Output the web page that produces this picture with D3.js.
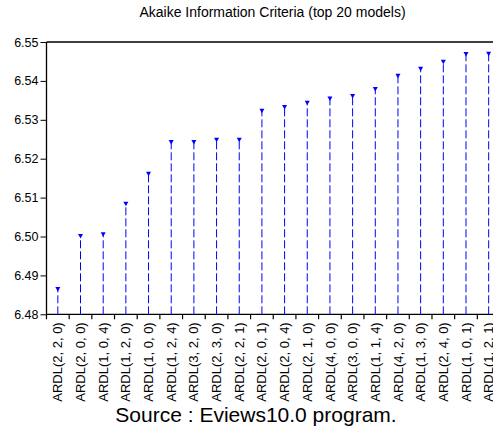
<!DOCTYPE html>
<html lang="en">
<head>
<meta charset="utf-8">
<title>AIC top 20 models</title>
<script src="https://d3js.org/d3.v7.min.js"></script>
<style>
  body{margin:0;background:#fff;font-family:"Liberation Sans",Arial,sans-serif;}
</style>
</head>
<body>
<div id="chart"></div>
<script>
// models ranked by AIC (lowest first)
var models = ["ARDL(2, 2, 0)","ARDL(2, 0, 0)","ARDL(1, 0, 4)","ARDL(1, 2, 0)","ARDL(1, 0, 0)",
              "ARDL(1, 2, 4)","ARDL(3, 2, 0)","ARDL(2, 3, 0)","ARDL(2, 2, 1)","ARDL(2, 0, 1)",
              "ARDL(2, 0, 4)","ARDL(2, 1, 0)","ARDL(4, 0, 0)","ARDL(3, 0, 0)","ARDL(1, 1, 4)",
              "ARDL(4, 2, 0)","ARDL(1, 3, 0)","ARDL(2, 4, 0)","ARDL(1, 0, 1)","ARDL(1, 2, 1)"]
var aic = [6.4865, 6.5001, 6.5006, 6.5084, 6.5161,
           6.5243, 6.5243, 6.5249, 6.5249, 6.5323,
           6.5333, 6.5344, 6.5355, 6.5361, 6.5379,
           6.5413, 6.5431, 6.5449, 6.5469, 6.5470]
var yTicks = [6.48, 6.49, 6.50, 6.51, 6.52, 6.53, 6.54, 6.55]

var w = 493, h = 429
var pLeft = 46.5, pTop = 42, pBottom = 314.3, pRight = 500

var svg = d3.select("#chart").append("svg")
    .attr("width", w).attr("height", h)

var x = d3.scaleBand().domain(models).range([pLeft, pRight])
var y = d3.scaleLinear().domain([6.48, 6.55]).range([pBottom, pTop])

// title
svg.append("text")
   .attr("x", 272.5).attr("y", 17)
   .attr("text-anchor", "middle")
   .style("font-size", "14px")
   .text("Akaike Information Criteria (top 20 models)")

// top frame line
svg.append("line")
   .attr("x1", pLeft).attr("x2", w).attr("y1", pTop).attr("y2", pTop)
   .attr("stroke", "#000").attr("stroke-width", 1.3)

// y axis
var yAxis = d3.axisLeft(y).tickValues(yTicks).tickFormat(d3.format(".2f"))
    .tickSize(6).tickPadding(2)
var gy = svg.append("g").attr("transform", "translate(" + pLeft + ",0)").call(yAxis)
gy.select(".domain").remove()
gy.append("line").attr("x1", 0).attr("x2", 0).attr("y1", pTop).attr("y2", pBottom)
  .attr("stroke", "#000").attr("stroke-width", 1.3)
gy.selectAll("text").style("font-size", "12.5px").attr("fill", "#000")
  .style("font-family", "'Liberation Sans',Arial,sans-serif")

// x axis line and boundary ticks
svg.append("line").attr("x1", pLeft).attr("x2", w).attr("y1", pBottom).attr("y2", pBottom)
   .attr("stroke", "#000").attr("stroke-width", 1.3)
svg.selectAll(".xtick")
   .data(models)
   .enter().append("line")
   .attr("class", "xtick")
   .attr("x1", function(d){ return x(d) }).attr("x2", function(d){ return x(d) })
   .attr("y1", pBottom).attr("y2", pBottom + 5)
   .attr("stroke", "#000").attr("stroke-width", 1.2)

// x labels, rotated
svg.selectAll(".xlabel")
   .data(models)
   .enter().append("text")
   .attr("class", "xlabel")
   .attr("transform", function(d){
       return "translate(" + (x(d) + x.bandwidth()/2) + "," + (pBottom + 8) + ") rotate(-90)"
   })
   .attr("text-anchor", "end")
   .attr("dy", "0.35em")
   .style("font-size", "13px")
   .text(function(d){ return d })

// stems
svg.selectAll(".stem")
   .data(aic)
   .enter().append("line")
   .attr("class", "stem")
   .attr("x1", function(d,i){ return x(models[i]) + x.bandwidth()/2 })
   .attr("x2", function(d,i){ return x(models[i]) + x.bandwidth()/2 })
   .attr("y1", pBottom)
   .attr("y2", function(d){ return y(d) })
   .attr("stroke", "#0000ff").attr("stroke-width", 1)
   .attr("stroke-dasharray", "8,3")

// triangle markers
svg.selectAll(".mark")
   .data(aic)
   .enter().append("path")
   .attr("class", "mark")
   .attr("d", function(d,i){
       var cx = x(models[i]) + x.bandwidth()/2, cy = y(d)
       return "M" + (cx-2.5) + "," + (cy-2) + "L" + (cx+2.5) + "," + (cy-2) + "L" + cx + "," + (cy+2.5) + "Z"
   })
   .attr("fill", "#0000ff")

// source note
svg.append("text")
   .attr("x", 256).attr("y", 421.5)
   .attr("text-anchor", "middle")
   .style("font-size", "21px")
   .text("Source : Eviews10.0 program.")
</script>
</body>
</html>
